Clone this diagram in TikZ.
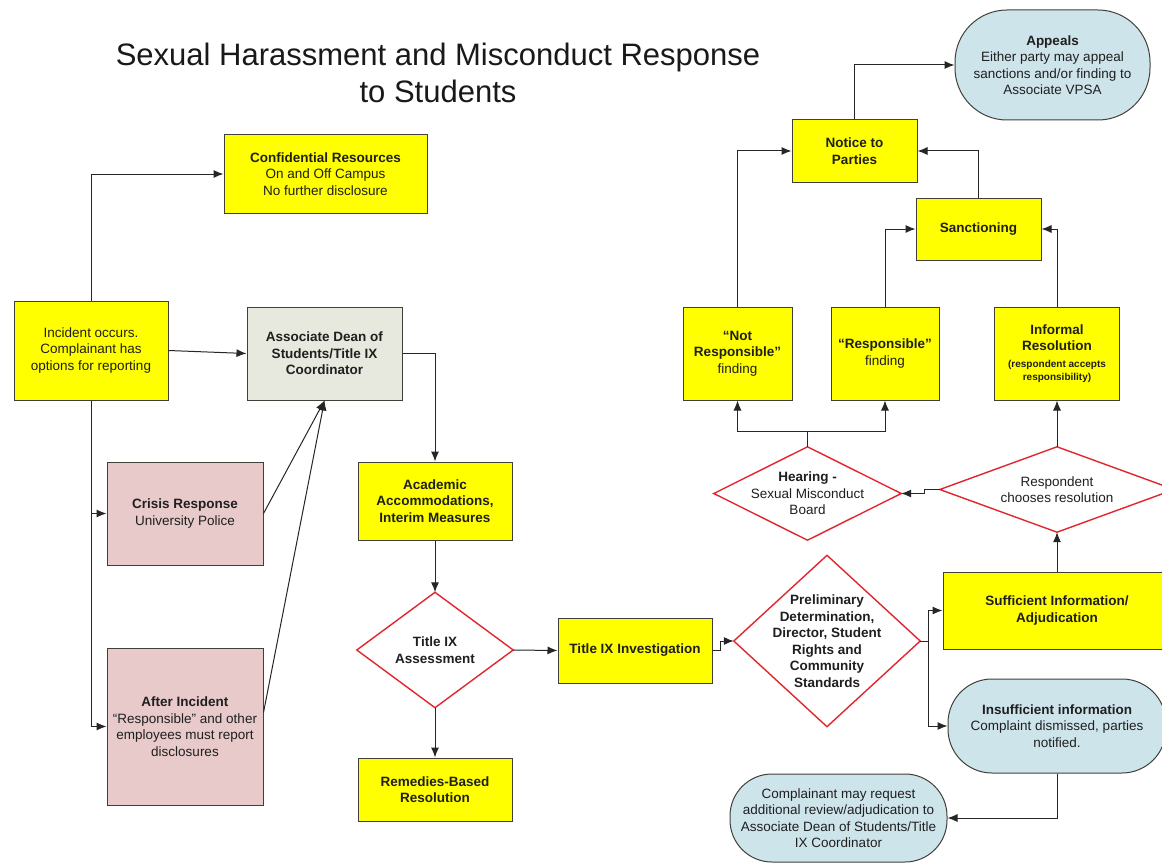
\documentclass[tikz,border=0pt]{standalone}
\usepackage{fontspec}
\setmainfont{Liberation Sans}
\usetikzlibrary{arrows.meta}
\definecolor{boxyellow}{RGB}{255,255,0}
\definecolor{boxpink}{RGB}{232,202,202}
\definecolor{boxgrey}{RGB}{231,233,222}
\definecolor{boxblue}{RGB}{206,228,235}
\definecolor{diared}{RGB}{226,38,45}
\definecolor{edgegrey}{RGB}{64,64,56}
\newcommand{\smalltxt}[1]{{\fontsize{10}{12}\selectfont\bfseries #1}}
\begin{document}
\begin{tikzpicture}[x=1pt,y=-1pt,
  basebox/.style={draw=edgegrey, line width=1pt, inner sep=0pt, align=center,
    font={\fontsize{13.5}{16.5}\selectfont}, text=black!88},
  ybox/.style={basebox, fill=boxyellow},
  pbox/.style={basebox, fill=boxpink},
  gbox/.style={basebox, fill=boxgrey},
  bbox/.style={basebox, fill=boxblue},
  dia/.style={inner sep=0pt, align=center, font={\fontsize{13.5}{16.5}\selectfont}, text=black!88},
  diaedge/.style={draw=diared, line width=1.4pt, line join=miter},
  sz/.style 2 args={minimum width=#1pt, minimum height=#2pt},
  arr/.style={draw=black!85, line width=1pt, -{Latex[length=10pt,width=8pt]}}
]
\useasboundingbox (0,0) rectangle (1162,864);
\fill[white] (0,0) rectangle (1162,864);

% title
\node[align=center, font={\fontsize{31}{37}\selectfont}, text=black!90] (title) at (438,73)
  {Sexual Harassment and Misconduct Response\\to Students};

% left column
\node[ybox, sz={203}{78}] (conf) at (325.5,174)
  {\textbf{Confidential Resources}\\On and Off Campus\\No further disclosure};
\node[ybox, sz={154}{99}] (inc) at (91,350.5)
  {Incident occurs.\\Complainant has\\options for reporting};
\node[gbox, sz={155}{93}] (dean) at (324.5,353.5)
  {\textbf{Associate Dean of}\\\textbf{Students/Title IX}\\\textbf{Coordinator}};
\node[pbox, sz={156}{103}] (crisis) at (185,513.5)
  {\textbf{Crisis Response}\\University Police};
\node[pbox, sz={156}{157}] (after) at (185,726.5)
  {\textbf{After Incident}\\“Responsible” and other\\employees must report\\disclosures};

% middle column
\node[ybox, sz={154}{78}] (acad) at (435,501)
  {\textbf{Academic}\\\textbf{Accommodations,}\\\textbf{Interim Measures}};
\node[dia, sz={156}{115}] (assess) at (435,650)
  {\textbf{Title IX}\\\textbf{Assessment}};
\node[ybox, sz={154}{63}] (remed) at (435,789.5)
  {\textbf{Remedies-Based}\\\textbf{Resolution}};
\node[ybox, sz={154}{65}] (invest) at (635,650.5)
  {\textbf{Title IX Investigation}};

% right part
\node[dia, sz={186}{171}] (prelim) at (827,641)
  {\textbf{Preliminary}\\\textbf{Determination,}\\\textbf{Director, Student}\\\textbf{Rights and}\\\textbf{Community}\\\textbf{Standards}};
\node[ybox, sz={228}{77}] (suff) at (1057,610.5)
  {\textbf{Sufficient Information/}\\\textbf{Adjudication}};
\node[bbox, sz={218}{94}, rounded corners=44pt] (insuff) at (1057,726)
  {\textbf{Insufficient information}\\Complaint dismissed, parties\\notified.};
\node[bbox, sz={217}{88}, rounded corners=42pt] (compl) at (838.5,818)
  {Complainant may request\\additional review/adjudication to\\Associate Dean of Students/Title\\IX Coordinator};
\node[dia, sz={187}{93}] (hearing) at (807.5,493.5)
  {\textbf{Hearing -}\\Sexual Misconduct\\Board};
\node[dia, sz={234}{85}] (respond) at (1057,489.5)
  {Respondent\\chooses resolution};
\node[ybox, sz={109}{93}] (notres) at (737.5,353.5)
  {\textbf{“Not}\\\textbf{Responsible”}\\finding};
\node[ybox, sz={108}{93}] (resp) at (885,353.5)
  {\textbf{“Responsible”}\\finding};
\node[ybox, sz={125}{93}] (informal) at (1057,353.5)
  {\textbf{Informal}\\\textbf{Resolution}\\\smalltxt{(respondent accepts}\\[-3pt]\smalltxt{responsibility)}};
\node[ybox, sz={125}{62}] (sanction) at (978.5,229)
  {\textbf{Sanctioning}};
\node[ybox, sz={125}{62}] (notice) at (854.5,151)
  {\textbf{Notice to}\\\textbf{Parties}};
\node[bbox, sz={195}{110}, rounded corners=52pt] (appeals) at (1052.5,65)
  {\textbf{Appeals}\\Either party may appeal\\sanctions and/or finding to\\Associate VPSA};

% diamond outlines
\foreach \n in {assess,prelim,hearing,respond}
  \draw[diaedge] (\n.north) -- (\n.east) -- (\n.south) -- (\n.west) -- cycle;

% connectors
\draw[arr] (inc.north) |- (conf.west);
\draw[arr] (inc.east) -- (dean.west);
\draw[arr] (inc.south) |- (crisis.west);
\draw[arr] (inc.south) |- (after.west);
\draw[arr] (crisis.east) -- (dean.south);
\draw[arr] ([yshift=14pt]after.east) -- (dean.south);
\draw[arr] (dean.east) -| (acad.north);
\draw[arr] (acad.south) -- (assess.north);
\draw[arr] (assess.south) -- (remed.north);
\draw[arr] (assess.east) -- (invest.west);
\draw[arr] (invest.east) -- ++(8,0) |- (prelim.west);
\draw[arr] (prelim.east) -- ++(8,0) |- (suff.west);
\draw[arr] (prelim.east) -- ++(8,0) |- (insuff.west);
\draw[arr] (insuff.south) |- (compl.east);
\draw[arr] (suff.north) -- (respond.south);
\draw[arr] (respond.west) -- ++(-15,0) |- (hearing.east);
\draw[arr] (hearing.north) -- ++(0,-15) -| (notres.south);
\draw[arr] (hearing.north) -- ++(0,-15) -| (resp.south);
\draw[arr] (respond.north) -- (informal.south);
\draw[arr] (notres.north) |- (notice.west);
\draw[arr] (resp.north) |- (sanction.west);
\draw[arr] (informal.north) |- (sanction.east);
\draw[arr] (sanction.north) |- (notice.east);
\draw[arr] (notice.north) |- (appeals.west);
\end{tikzpicture}
\end{document}
